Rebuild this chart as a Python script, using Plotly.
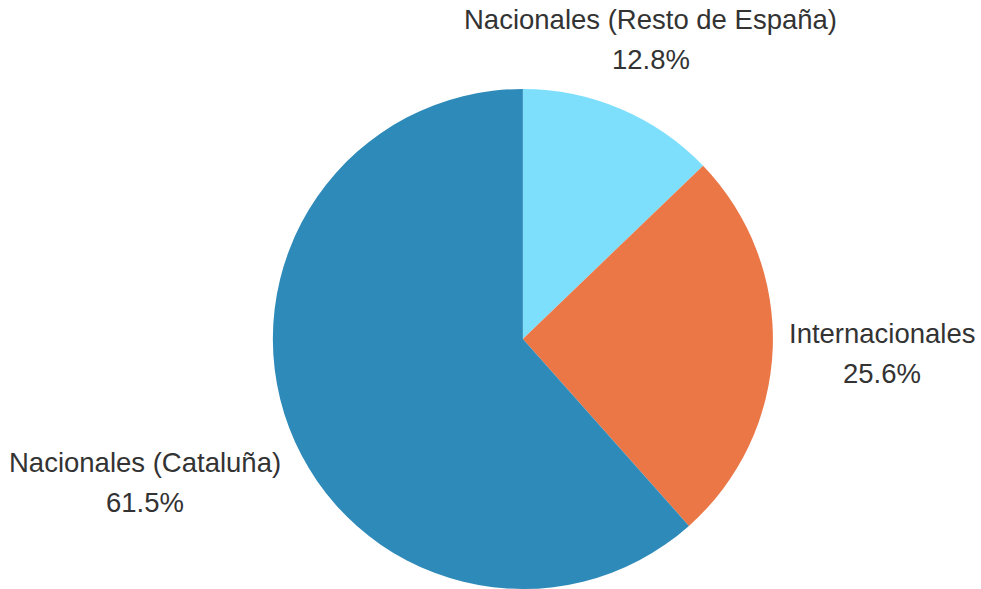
import math
import plotly.graph_objects as go

# Share of participants by origin (percent), clockwise from 12 o'clock
categories = ["Nacionales (Resto de España)", "Internacionales", "Nacionales (Cataluña)"]
shares = [12.8, 25.6, 61.5]
colors = ["#7EDFFC", "#EB7646", "#2E8AB8"]

W, H = 981, 589
FONT_SIZE = 27.5
LINE_HEIGHT = 40  # px between the two label lines
LABEL_GAP = 16  # px between pie edge and label box
DOMAIN_X = [0.278, 0.788]
DOMAIN_Y = [0.0, 0.849]
LABEL_FONT = dict(family="Liberation Sans, Arial, sans-serif", size=FONT_SIZE, color="#333333")

# Liberation Sans advance widths (em) for estimating label extents
GLYPH_EM = {
    "i": 0.222, "l": 0.222, "j": 0.222, "t": 0.278, "f": 0.278, "I": 0.278,
    " ": 0.278, ".": 0.278, ",": 0.278, "r": 0.333, "(": 0.333, ")": 0.333,
    "c": 0.5, "s": 0.5, "k": 0.5, "v": 0.5, "x": 0.5, "y": 0.5, "z": 0.5,
    "N": 0.722, "R": 0.722, "C": 0.722, "E": 0.667, "%": 0.889, "m": 0.833,
}


def text_width(s):
    return sum(GLYPH_EM.get(ch, 0.556) for ch in s) * FONT_SIZE


fig = go.Figure(
    go.Pie(
        labels=categories,
        values=shares,
        sort=False,
        direction="clockwise",
        rotation=0,
        marker=dict(colors=colors, line=dict(width=0)),
        textinfo="none",
        hovertemplate="%{label}: %{value}%<extra></extra>",
        domain=dict(x=DOMAIN_X, y=DOMAIN_Y),
        showlegend=False,
    )
)

# Pie geometry in pixels (margins are zero, so paper == page)
cx = (DOMAIN_X[0] + DOMAIN_X[1]) / 2 * W
cy = (DOMAIN_Y[0] + DOMAIN_Y[1]) / 2 * H  # measured from the bottom
radius = min((DOMAIN_X[1] - DOMAIN_X[0]) * W, (DOMAIN_Y[1] - DOMAIN_Y[0]) * H) / 2
clear = radius + LABEL_GAP


def box_distance(t, ux, uy, hw, hh):
    px, py = abs(t * ux), abs(t * uy)
    dx = max(px - hw, 0.0)
    dy = max(py - hh, 0.0)
    return math.hypot(dx, dy)


total = sum(shares)
cum = 0.0
for name, val in zip(categories, shares):
    mid = (cum + val / 2) / total * 2 * math.pi
    cum += val
    ux, uy = math.sin(mid), math.cos(mid)  # clockwise from top, y up
    pct = f"{val}%"
    # label box half-size
    hw = max(text_width(name), text_width(pct)) / 2
    hh = (LINE_HEIGHT + FONT_SIZE) / 2
    # push the label out along the mid-angle ray until it clears the pie
    lo, hi = 0.0, 2000.0
    for _ in range(60):
        m = (lo + hi) / 2
        if box_distance(m, ux, uy, hw, hh) < clear:
            lo = m
        else:
            hi = m
    lx = cx + hi * ux
    ly = cy + hi * uy
    for line, off in ((name, LINE_HEIGHT / 2), (pct, -LINE_HEIGHT / 2)):
        fig.add_annotation(
            x=lx / W,
            y=(ly + off) / H,
            xref="paper",
            yref="paper",
            text=line,
            showarrow=False,
            xanchor="center",
            yanchor="middle",
            font=LABEL_FONT,
        )

fig.update_layout(
    width=W,
    height=H,
    margin=dict(l=0, r=0, t=0, b=0),
    paper_bgcolor="white",
    plot_bgcolor="white",
)

fig.write_html("out.html")
